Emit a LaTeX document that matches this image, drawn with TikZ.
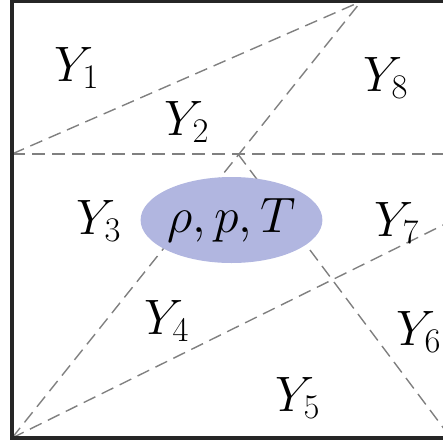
\documentclass[tikz,border=0pt]{standalone}
\usetikzlibrary{shapes.geometric}
\definecolor{blobfill}{RGB}{177,182,224}
\begin{document}
\begin{tikzpicture}[x=0.5pt,y=-0.5pt,
  region/.style={inner sep=0pt,font=\fontsize{25}{29}\selectfont},
  divider/.style={draw=black!50,line width=0.7pt,dash pattern=on 6.5pt off 3.5pt},
  border/.style={draw=black!85,line width=1.6pt}]
\useasboundingbox (0,0) rectangle (443,445);
\clip (0,0) rectangle (443,445);
\coordinate (C) at (12,438);
\coordinate (A) at (361,1.5);
\coordinate (L) at (12,154);
\coordinate (X) at (238,154);
\coordinate (R) at (470,154);
\coordinate (E) at (480,206.8);
\coordinate (D) at (451,438);
\draw[divider] (L) -- (A);
\draw[divider] (C) -- (A);
\draw[divider] (L) -- (R);
\draw[divider] (X) -- (D);
\draw[divider] (C) -- (E);
\draw[border] (12,1.5) rectangle (520,438);
\node[ellipse,fill=blobfill,minimum width=88.5pt,minimum height=43pt,inner sep=0pt,region] (s) at (231.5,220) {$\rho,p,T$};
\node[region] (y1) at (77,68) {$Y_1$};
\node[region] (y2) at (187,122) {$Y_2$};
\node[region] (y8) at (386,78) {$Y_8$};
\node[region] (y3) at (99,221) {$Y_3$};
\node[region] (y7) at (397,223) {$Y_7$};
\node[region] (y4) at (167,321) {$Y_4$};
\node[region] (y6) at (419,332) {$Y_6$};
\node[region] (y5) at (298,398) {$Y_5$};
\end{tikzpicture}
\end{document}
